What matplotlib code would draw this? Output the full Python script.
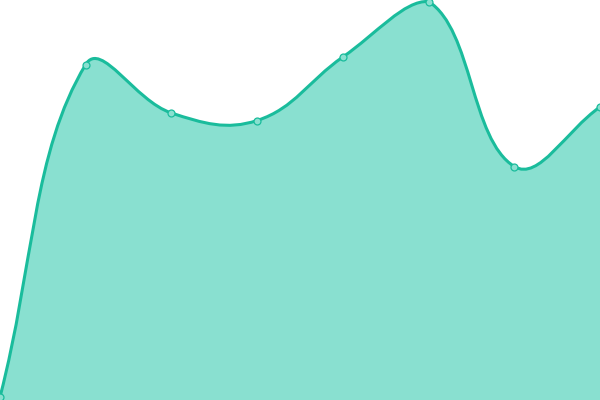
import numpy as np
import matplotlib
matplotlib.use("Agg")
import matplotlib.pyplot as plt
from matplotlib.path import Path
from matplotlib.patches import PathPatch

labels = ["1", "2", "3", "4", "5", "6", "7", "8"]
values = [3, 335.5, 287, 279.5, 343, 398.5, 233.5, 293]

W, H = 600, 400
fig = plt.figure(figsize=(6, 4), dpi=100)
ax = fig.add_axes([0, 0, 1, 1])
n = len(values)
ax.set_xlim(0, n - 1)
ax.set_ylim(0, 400)
ax.axis("off")

# pixel-space points for Chart.js-like spline (tension 0.4)
xs = np.arange(n) * W / (n - 1)
ys = np.array(values, dtype=float) * H / 400.0
pts = np.column_stack([xs, ys])
t = 0.4
cp_prev = pts.copy()
cp_next = pts.copy()
for i in range(n):
    p = pts[max(i - 1, 0)]
    c = pts[i]
    q = pts[min(i + 1, n - 1)]
    d01 = np.hypot(*(c - p))
    d12 = np.hypot(*(q - c))
    tot = d01 + d12
    s01 = d01 / tot if tot else 0
    s12 = d12 / tot if tot else 0
    fa, fb = t * s01, t * s12
    cp_prev[i] = c - fa * (q - p)
    cp_next[i] = c + fb * (q - p)
cp_prev[:, 0] = np.clip(cp_prev[:, 0], 0, W)
cp_next[:, 0] = np.clip(cp_next[:, 0], 0, W)
cp_prev[:, 1] = np.clip(cp_prev[:, 1], 0, H)
cp_next[:, 1] = np.clip(cp_next[:, 1], 0, H)

def to_data(p):
    return (p[0] * (n - 1) / W, p[1] * 400.0 / H)

verts = [to_data(pts[0])]
codes = [Path.MOVETO]
for i in range(n - 1):
    verts += [to_data(cp_next[i]), to_data(cp_prev[i + 1]), to_data(pts[i + 1])]
    codes += [Path.CURVE4] * 3

fill_verts = verts + [(n - 1, 0), (0, 0), verts[0]]
fill_codes = codes + [Path.LINETO, Path.LINETO, Path.CLOSEPOLY]
ax.add_patch(PathPatch(Path(fill_verts, fill_codes), facecolor="#89e0d0", edgecolor="none"))
ax.add_patch(PathPatch(Path(verts, codes), facecolor="none", edgecolor="#1abc9c", lw=2.2,
                       capstyle="round", joinstyle="round"))
ax.plot(np.arange(n), values, "o", ms=5, mfc="#8ae0d0", mec="#1abc9c", mew=0.9,
        clip_on=False, zorder=5)

fig.savefig("out.png", dpi=100)
